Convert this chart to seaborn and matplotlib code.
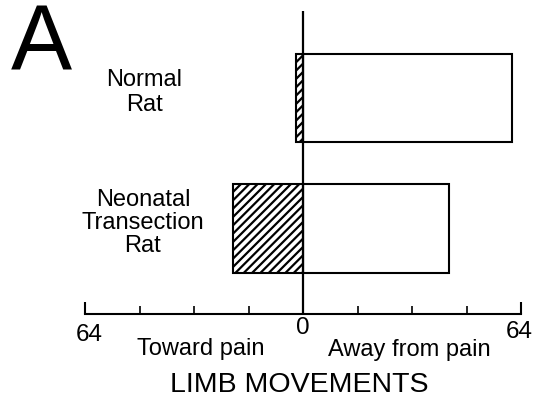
import matplotlib
matplotlib.use("Agg")
import matplotlib.pyplot as plt
import seaborn as sns
import pandas as pd

# Limb movements (count out of 64) per group
groups = ["Normal\nRat", "Neonatal\nTransection\nRat"]
toward_pain = [2, 20.5]
away_from_pain = [61.5, 43]
axis_max = 64
minor_ticks = [-48, -32, -16, 16, 32, 48]

sns.set_theme(style="white")
plt.rcParams["font.family"] = ["Liberation Sans", "DejaVu Sans"]
plt.rcParams["text.color"] = "black"
plt.rcParams["hatch.linewidth"] = 1.6
plt.rcParams["hatch.color"] = "black"

W, H = 535, 402
fig = plt.figure(figsize=(W / 100, H / 100), dpi=100)
ax = fig.add_axes([85 / W, (H - 315) / H, 436 / W, (315 - 12) / H])


def px(x, y):
    return x / W, 1 - y / H


df = pd.DataFrame({
    "group": groups,
    "toward": [-v for v in toward_pain],
    "away": away_from_pain,
})

sns.barplot(data=df, x="away", y="group", orient="h", color="white",
            edgecolor="black", linewidth=1.5, width=0.675, ax=ax,
            saturation=1)
sns.barplot(data=df, x="toward", y="group", orient="h", color="white",
            edgecolor="black", linewidth=1.5, width=0.675, ax=ax,
            saturation=1, hatch="////")

ax.axvline(0, color="black", lw=1.6, zorder=5)

ax.set_xlim(-axis_max, axis_max)
ax.set_ylim(1.655, -0.667)
ax.set_yticks([])
ax.set_xlabel("")
ax.set_ylabel("")
for side in ["top", "left", "right"]:
    ax.spines[side].set_visible(False)
ax.spines["bottom"].set_color("black")
ax.spines["bottom"].set_linewidth(1.5)

ax.set_xticks([-axis_max, axis_max])
ax.set_xticks(minor_ticks, minor=True)
ax.set_xticklabels([])
ax.tick_params(axis="x", which="major", direction="in", length=8.6,
               width=1.5, color="black", bottom=True)
ax.tick_params(axis="x", which="minor", direction="in", length=5.6,
               width=1.2, color="black", bottom=True)

# Scale labels
fig.text(*px(89.5, 324), "64", ha="center", va="top", fontsize=17.5)
fig.text(*px(303, 317), "0", ha="center", va="top", fontsize=17.5)
fig.text(*px(519, 321), "64", ha="center", va="top", fontsize=17.5)
fig.text(*px(201, 338), "Toward pain", ha="center", va="top", fontsize=17)
fig.text(*px(409, 339), "Away from pain", ha="center", va="top", fontsize=17)
fig.text(*px(299, 372), "LIMB MOVEMENTS", ha="center", va="top", fontsize=20.5)

# Group labels
fig.text(*px(144, 69), groups[0], ha="center", va="top", fontsize=17,
         linespacing=1.2)
fig.text(*px(143, 189), groups[1], ha="center", va="top", fontsize=17,
         linespacing=1.06)

# Panel letter
fig.text(*px(41, 3), "A", ha="center", va="top", fontsize=66)

fig.savefig("out.png", dpi=100, facecolor="white")
